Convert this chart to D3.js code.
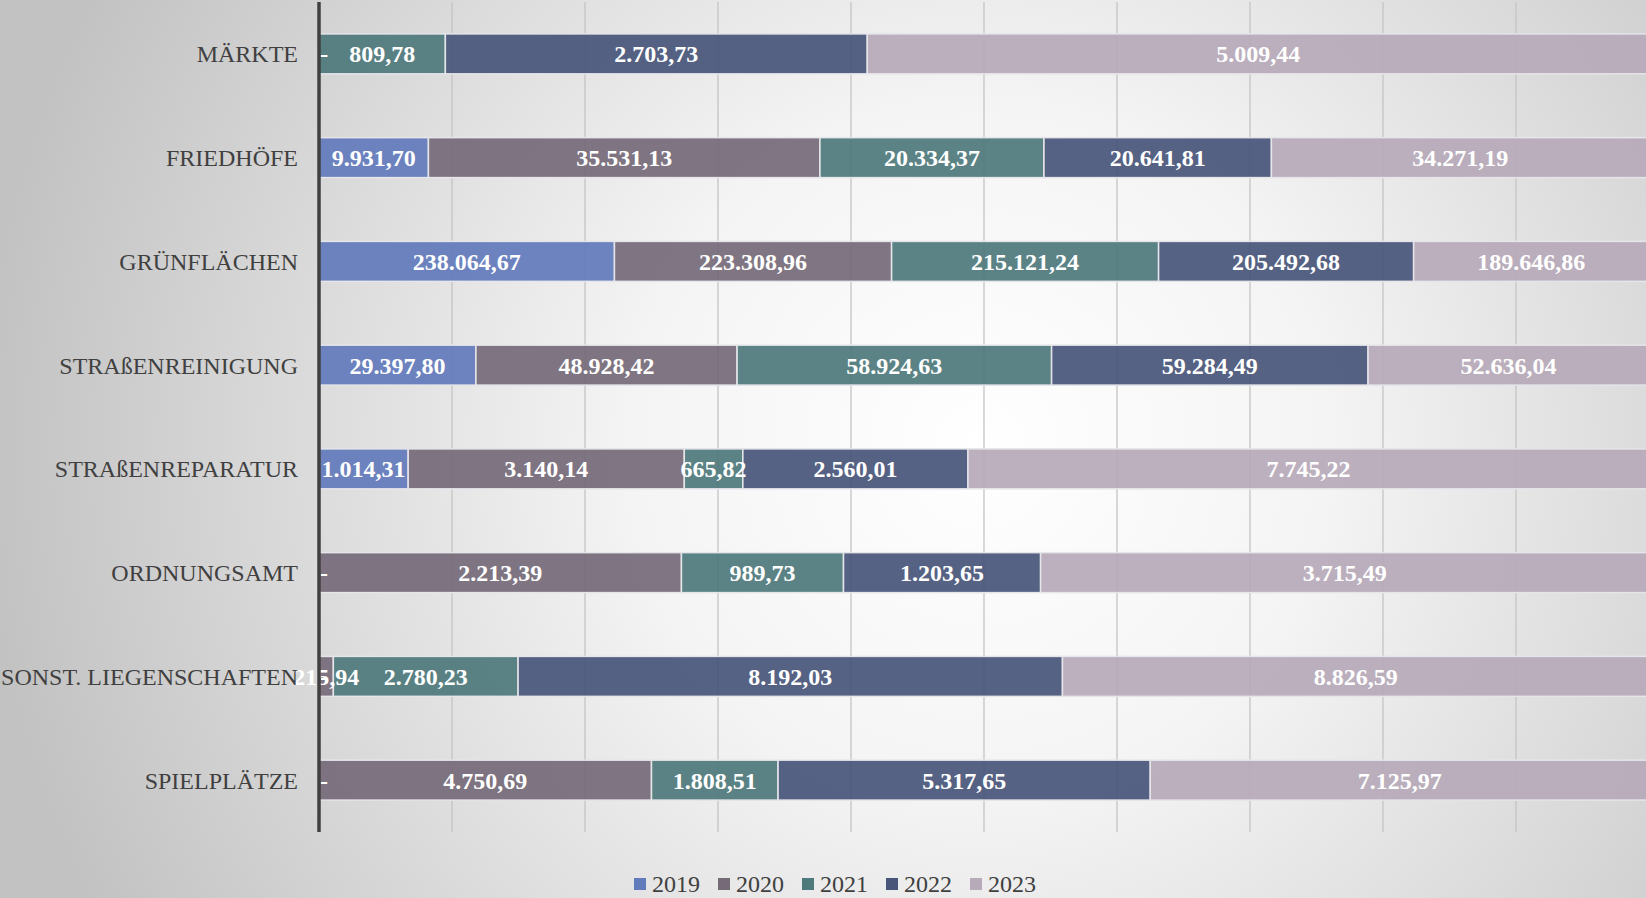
<!DOCTYPE html>
<html><head><meta charset="utf-8">
<script src="https://cdn.jsdelivr.net/npm/d3@7"></script>
<style>html,body{margin:0;padding:0;overflow:hidden;}svg{display:block;}</style>
</head><body>
<svg id="chart" width="1646" height="898"></svg>
<script>
const categories = ["MÄRKTE","FRIEDHÖFE","GRÜNFLÄCHEN","STRAßENREINIGUNG","STRAßENREPARATUR","ORDNUNGSAMT","SONST. LIEGENSCHAFTEN","SPIELPLÄTZE"];
const years = ["2019","2020","2021","2022","2023"];
const v2019 = [0, 9931.70, 238064.67, 29397.80, 1014.31, 0, 0, 0];
const v2020 = [0, 35531.13, 223308.96, 48928.42, 3140.14, 2213.39, 215.94, 4750.69];
const v2021 = [809.78, 20334.37, 215121.24, 58924.63, 665.82, 989.73, 2780.23, 1808.51];
const v2022 = [2703.73, 20641.81, 205492.68, 59284.49, 2560.01, 1203.65, 8192.03, 5317.65];
const v2023 = [5009.44, 34271.19, 189646.86, 52636.04, 7745.22, 3715.49, 8826.59, 7125.97];
const colors = ["#627bbb","#766a78","#4f7a7c","#49567a","#b7aab9"];
const xTicks = [0,0.1,0.2,0.3,0.4,0.5,0.6,0.7,0.8,0.9,1];

const series = [v2019,v2020,v2021,v2022,v2023];
const rows = categories.map((c,i)=>{const o={cat:c};years.forEach((y,j)=>o[y]=series[j][i]);return o;});

const W=1646,H=898;
const svg=d3.select("#chart");
const defs=svg.append("defs");
const rg=defs.append("radialGradient").attr("id","bg").attr("gradientUnits","userSpaceOnUse")
  .attr("cx",980).attr("cy",450).attr("r",1000);
rg.append("stop").attr("offset","0").attr("stop-color","#ffffff");
rg.append("stop").attr("offset","0.35").attr("stop-color","#f4f4f4");
rg.append("stop").attr("offset","1").attr("stop-color","#c2c2c2");
svg.append("rect").attr("width",W).attr("height",H).attr("fill","url(#bg)");

const m={left:319,right:1649,top:2,bottom:832};
const x=d3.scaleLinear().domain([0,1]).range([m.left,m.right]);
const y=d3.scaleBand().domain(categories).range([m.top,m.bottom]).paddingInner(0.615).paddingOuter(0.3075);

// gridlines
svg.append("g").selectAll("line").data(xTicks.slice(1)).join("line")
  .attr("x1",d=>x(d)).attr("x2",d=>x(d)).attr("y1",m.top).attr("y2",m.bottom)
  .attr("stroke","#c4c4c4").attr("stroke-width",1.3);

const stack=d3.stack().keys(years).offset(d3.stackOffsetExpand);
const stacked=stack(rows);

const g=svg.append("g");
stacked.forEach((s,j)=>{
  g.append("g").selectAll("rect").data(s).join("rect")
    .attr("x",d=>x(d[0])).attr("width",d=>Math.max(0,x(d[1])-x(d[0])))
    .attr("y",d=>y(d.data.cat)).attr("height",y.bandwidth())
    .attr("fill",colors[j]).attr("fill-opacity",0.93)
    .attr("stroke","#e6e6ea").attr("stroke-width",1.5);
});

// axis line
svg.append("line").attr("x1",m.left).attr("x2",m.left).attr("y1",m.top).attr("y2",m.bottom)
  .attr("stroke","#404040").attr("stroke-width",3.5);

// category labels
svg.append("g").selectAll("text").data(categories).join("text")
  .attr("x",298).attr("y",d=>y(d)+y.bandwidth()/2).attr("dy","0.35em")
  .attr("text-anchor","end").attr("font-family","'Liberation Serif','Times New Roman',serif")
  .attr("font-size",24).attr("fill","#404040").text(d=>d);

// value labels
const fmt=v=>{ if(v===0) return "-"; const s=d3.format(",.2f")(v); return s.replace(/,/g,"#").replace(/\./g,",").replace(/#/g,"."); };
stacked.forEach((s,j)=>{
  g.append("g").selectAll("text").data(s).join("text")
    .attr("x",d=>{const v=d.data[years[j]]; return v===0? x(d[0])+5 : (x(d[0])+x(d[1]))/2;})
    .attr("y",d=>y(d.data.cat)+y.bandwidth()/2).attr("dy","0.35em")
    .attr("text-anchor","middle").attr("font-family","'Liberation Serif','Times New Roman',serif")
    .attr("font-weight","bold").attr("font-size",24).attr("fill","#ffffff")
    .text(d=>fmt(d.data[years[j]]));
});

// legend
const lg=svg.append("g");
years.forEach((yr,j)=>{
  const lx=634+j*84;
  lg.append("rect").attr("x",lx).attr("y",878).attr("width",12).attr("height",12).attr("fill",colors[j]);
  lg.append("text").attr("x",lx+18).attr("y",892).attr("font-family","'Liberation Serif','Times New Roman',serif")
    .attr("font-size",24).attr("fill","#404040").text(yr);
});
</script>
</body></html>
